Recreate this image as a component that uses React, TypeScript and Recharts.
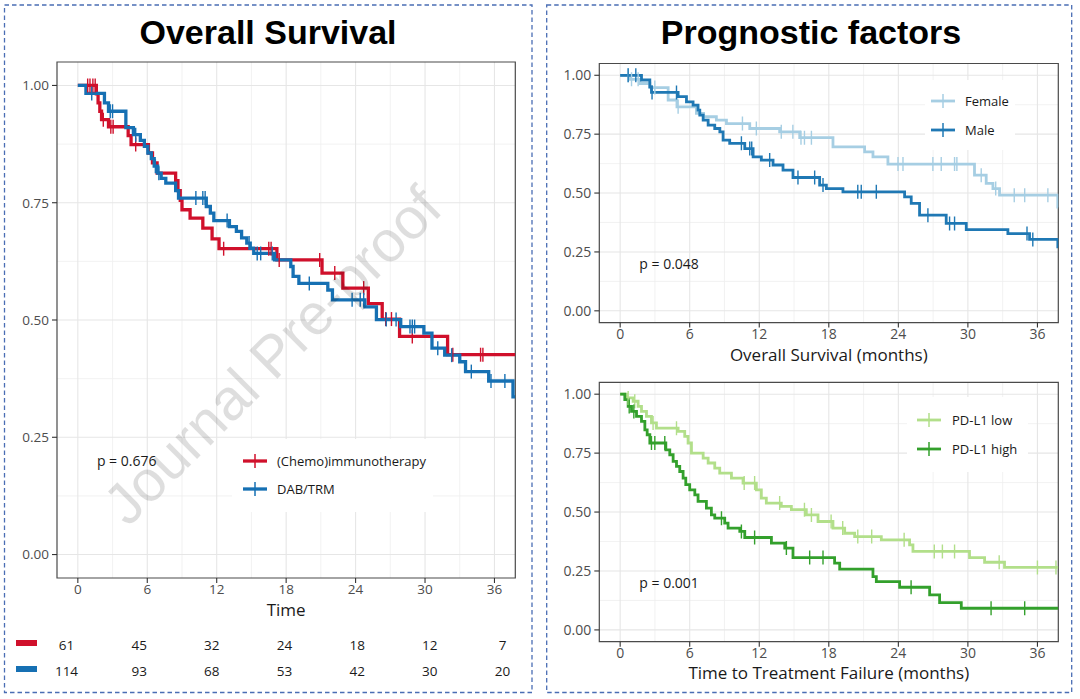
import React from "react";
import {
  CartesianGrid,
  ComposedChart,
  Line,
  ReferenceArea,
  ReferenceDot,
  Scatter,
  ScatterChart,
  XAxis,
  YAxis,
} from "recharts";

const FONT = "'Open Sans', 'Noto Sans', sans-serif";
const TITLE_FONT = "'Liberation Sans', Arial, sans-serif";

const xMajor = [0, 6, 12, 18, 24, 30, 36];
const xMinor = [3, 9, 15, 21, 27, 33];
const yMajor = [0, 0.25, 0.5, 0.75, 1];
const yMinor = [0.125, 0.375, 0.625, 0.875];
const X_DOMAIN: [number, number] = [-1.8, 37.8];
const Y_DOMAIN: [number, number] = [-0.05, 1.05];

// overall survival, (chemo)immunotherapy
const chemoTime = [0, 1.6, 1.75, 1.9, 2.05, 2.65, 4.35, 4.6, 6.1, 6.45, 6.85, 8.45, 8.65, 8.85, 9.0, 9.7, 10.8, 11.6, 12.2, 17.2, 21.1, 22.9, 25.1, 26.3, 27.8, 31.95, 37.8];
const chemoSurv = [1, 0.982, 0.963, 0.945, 0.927, 0.912, 0.893, 0.874, 0.856, 0.835, 0.813, 0.797, 0.776, 0.755, 0.735, 0.717, 0.696, 0.673, 0.652, 0.628, 0.6, 0.568, 0.535, 0.502, 0.465, 0.426, 0.426];
const chemoCensor = [0.85, 1.05, 1.3, 1.5, 2.2, 2.85, 3.05, 5.0, 12.6, 16.5, 16.7, 17.4, 20.9, 22.2, 24.7, 26.6, 27.1, 28.9, 32.4, 34.8, 35.0];

// overall survival, DAB/TRM
const dabTime = [0, 0.7, 2.3, 2.65, 4.15, 4.8, 5.4, 5.75, 6.05, 6.35, 6.6, 6.9, 7.2, 7.6, 8.45, 8.7, 11.1, 11.45, 11.75, 13.1, 13.7, 14.15, 14.6, 14.9, 15.2, 17.0, 18.4, 18.6, 19.1, 21.6, 22.0, 24.8, 25.8, 27.9, 29.9, 30.6, 31.7, 33.0, 33.5, 35.5, 37.6, 37.8];
const dabSurv = [1, 0.983, 0.963, 0.945, 0.91, 0.895, 0.883, 0.87, 0.856, 0.844, 0.828, 0.813, 0.802, 0.792, 0.776, 0.76, 0.742, 0.728, 0.712, 0.699, 0.689, 0.675, 0.664, 0.653, 0.642, 0.628, 0.614, 0.593, 0.578, 0.564, 0.543, 0.528, 0.501, 0.486, 0.472, 0.44, 0.425, 0.411, 0.39, 0.37, 0.336, 0.336];
const dabCensor = [1.2, 2.8, 3.0, 5.0, 6.7, 7.0, 10.2, 10.8, 11.0, 12.9, 14.8, 15.5, 15.8, 16.8, 20.0, 23.7, 24.4, 24.7, 26.65, 27.5, 28.7, 28.9, 29.1, 31.1, 32.3, 34.0, 35.7, 36.9];

// by sex
const femaleTime = [0, 0.85, 1.7, 2.56, 4.14, 4.9, 6.58, 7.2, 8.3, 9.17, 11.18, 13.76, 15.49, 18.36, 21.09, 21.81, 23.1, 30.57, 31.58, 32.16, 32.73, 37.76, 37.8];
const femaleSurv = [1, 0.983, 0.965, 0.948, 0.895, 0.866, 0.838, 0.824, 0.81, 0.795, 0.774, 0.76, 0.735, 0.696, 0.675, 0.654, 0.623, 0.576, 0.541, 0.519, 0.491, 0.44, 0.44];
const femaleCensor = [0.69, 0.98, 1.55, 2.99, 5.0, 10.55, 11.75, 13.9, 14.9, 15.6, 15.9, 16.5, 23.97, 24.4, 26.98, 27.7, 28.85, 29.05, 31.15, 32.4, 34.0, 34.9, 36.9];

const maleTime = [0, 1.84, 2.56, 2.7, 5.0, 5.72, 6.29, 6.72, 6.87, 7.16, 7.59, 8.16, 8.6, 8.88, 9.45, 10.75, 11.47, 12.18, 13.19, 14.05, 14.91, 17.21, 17.79, 19.22, 24.54, 25.11, 25.83, 28.13, 29.86, 33.45, 35.32, 37.76, 37.8];
const maleSurv = [1, 0.98, 0.951, 0.927, 0.909, 0.887, 0.873, 0.852, 0.831, 0.81, 0.788, 0.774, 0.76, 0.725, 0.711, 0.689, 0.654, 0.64, 0.619, 0.597, 0.566, 0.534, 0.519, 0.505, 0.484, 0.456, 0.406, 0.371, 0.345, 0.328, 0.303, 0.272, 0.272];
const maleCensor = [0.69, 1.35, 2.75, 4.86, 10.46, 11.18, 11.35, 12.9, 15.34, 16.78, 17.5, 20.5, 20.8, 22.1, 26.55, 28.42, 28.85, 35.1, 35.6];

// time to treatment failure by PD-L1
const lowTime = [0, 0.55, 1.12, 1.55, 1.84, 2.27, 2.7, 3.13, 5.0, 5.57, 5.86, 6.15, 7.16, 7.59, 8.16, 8.59, 9.6, 10.6, 11.75, 12.18, 12.61, 13.9, 14.77, 16.06, 17.07, 18.36, 19.37, 20.23, 22.53, 24.97, 25.26, 30.14, 31.44, 33.16, 37.8];
const lowSurv = [1, 0.984, 0.97, 0.948, 0.927, 0.906, 0.878, 0.856, 0.842, 0.821, 0.793, 0.75, 0.729, 0.708, 0.686, 0.665, 0.644, 0.623, 0.594, 0.559, 0.538, 0.524, 0.51, 0.488, 0.46, 0.432, 0.41, 0.396, 0.382, 0.361, 0.333, 0.307, 0.287, 0.265, 0.265];
const lowCensor = [0.69, 1.26, 2.84, 4.86, 10.7, 11.6, 13.76, 15.9, 16.5, 18.2, 19.2, 20.5, 21.7, 24.5, 27.1, 27.8, 28.85, 32.7, 36.0, 37.6];

const highTime = [0, 0.4, 0.69, 0.98, 1.41, 1.84, 2.13, 2.33, 2.56, 3.94, 4.28, 4.57, 4.86, 5.14, 5.43, 5.66, 6.0, 6.44, 6.72, 7.44, 7.87, 8.16, 9.02, 9.31, 10.32, 10.75, 13.05, 14.2, 14.91, 18.5, 18.94, 21.81, 22.1, 24.11, 26.7, 27.56, 29.43, 37.8];
const highSurv = [1, 0.977, 0.948, 0.927, 0.906, 0.885, 0.849, 0.828, 0.793, 0.764, 0.743, 0.715, 0.694, 0.672, 0.644, 0.616, 0.594, 0.573, 0.545, 0.517, 0.488, 0.474, 0.453, 0.432, 0.418, 0.392, 0.368, 0.347, 0.307, 0.283, 0.258, 0.226, 0.205, 0.181, 0.149, 0.116, 0.092, 0.092];
const highCensor = [0.78, 1.18, 2.7, 2.99, 3.85, 8.74, 10.46, 11.6, 14.34, 16.35, 17.5, 25.1, 32.0, 34.9];

// number at risk
const riskTime = [0, 6, 12, 18, 24, 30, 36];
const riskChemo = [61, 45, 32, 24, 18, 12, 7];
const riskDab = [114, 93, 68, 53, 42, 30, 20];

const RED = "#d0102b";
const BLUE = "#1670b3";

type Curve = { name: string; color: string; time: number[]; surv: number[]; censor: number[] };

function survAt(time: number[], surv: number[], t: number) {
  let s = surv[0];
  for (let i = 0; i < time.length; i++) if (time[i] <= t) s = surv[i];
  return s;
}

function mapTo(vals: number[], start: number, size: number, domain: [number, number], flip: boolean) {
  return vals.map((v) => {
    const f = (v - domain[0]) / (domain[1] - domain[0]);
    return flip ? start + size * (1 - f) : start + size * f;
  });
}

function gridX(vals: number[]) {
  return (props: any) => {
    const sc = props?.xAxis?.scale;
    if (typeof sc === "function") return vals.map((v) => sc(v));
    const o = props.offset;
    return mapTo(vals, o.left, o.width, X_DOMAIN, false);
  };
}

function gridY(vals: number[]) {
  return (props: any) => {
    const sc = props?.yAxis?.scale;
    if (typeof sc === "function") return vals.map((v) => sc(v));
    const o = props.offset;
    return mapTo(vals, o.top, o.height, Y_DOMAIN, true);
  };
}

type PlotProps = {
  left: number;
  top: number;
  width: number;
  height: number;
  margin: { top: number; right: number; left: number; bottom: number };
  yWidth: number;
  xHeight: number;
  curves: Curve[];
  pValue: string;
  xLabel: string;
  labelOffset: number;
  lineWidth: number;
  tickFont: number;
};

function KmPlot(p: PlotProps) {
  return (
    <div style={{ position: "absolute", left: p.left, top: p.top }}>
      <ComposedChart width={p.width} height={p.height} margin={p.margin}>
        <CartesianGrid
          stroke="#efefef"
          strokeWidth={0.8}
          verticalCoordinatesGenerator={gridX(xMinor)}
          horizontalCoordinatesGenerator={gridY(yMinor)}
        />
        <CartesianGrid
          stroke="#e6e6e6"
          strokeWidth={1.1}
          verticalCoordinatesGenerator={gridX(xMajor)}
          horizontalCoordinatesGenerator={gridY(yMajor)}
        />
        <XAxis
          type="number"
          dataKey="t"
          domain={X_DOMAIN}
          allowDataOverflow
          ticks={xMajor}
          axisLine={false}
          tickLine={{ stroke: "#333", strokeWidth: 1.1 }}
          tickSize={5}
          tickMargin={1}
          tick={{ fontSize: p.tickFont, fill: "#4d4d4d", fontFamily: FONT }}
          height={p.xHeight}
          label={{
            value: p.xLabel,
            position: "insideBottom",
            offset: p.labelOffset,
            style: { fontSize: 17, fill: "#1a1a1a", fontFamily: FONT },
          }}
        />
        <YAxis
          type="number"
          domain={Y_DOMAIN}
          allowDataOverflow
          ticks={yMajor}
          width={p.yWidth}
          axisLine={false}
          tickLine={{ stroke: "#333", strokeWidth: 1.1 }}
          tickSize={5}
          tickMargin={3}
          tickFormatter={(v: number) => v.toFixed(2)}
          tick={{ fontSize: p.tickFont, fill: "#4d4d4d", fontFamily: FONT }}
        />
        <ReferenceArea
          x1={X_DOMAIN[0]}
          x2={X_DOMAIN[1]}
          y1={Y_DOMAIN[0]}
          y2={Y_DOMAIN[1]}
          fill="none"
          fillOpacity={0}
          stroke="#4a4a4a"
          strokeWidth={1.2}
          ifOverflow="visible"
        />
        {p.curves.map((c) => (
          <Line
            key={c.name}
            data={c.time.map((t, i) => ({ t, s: c.surv[i] }))}
            dataKey="s"
            type="stepAfter"
            stroke={c.color}
            strokeWidth={p.lineWidth}
            dot={false}
            activeDot={false}
            isAnimationActive={false}
          />
        ))}
        {p.curves.map((c) => (
          <Scatter
            key={c.name + "-censor"}
            data={c.censor.map((t) => ({ t, s: survAt(c.time, c.surv, t) }))}
            dataKey="s"
            isAnimationActive={false}
            shape={(d: any) => (
              <line x1={d.cx} x2={d.cx} y1={d.cy - 7} y2={d.cy + 7} stroke={c.color} strokeWidth={1.4} />
            )}
          />
        ))}
        <ReferenceDot
          x={1.65}
          y={0.2}
          r={0}
          ifOverflow="visible"
          shape={(d: any) => (
            <text x={d.cx} y={d.cy} dominantBaseline="central" fontSize={14} fontFamily={FONT} fill="#1a1a1a">
              {p.pValue}
            </text>
          )}
        />
      </ComposedChart>
    </div>
  );
}

function KeyBox({
  left, top, width, height, rows, iconLeft, textLeft, items, lineWidth,
}: {
  left: number; top: number; width: number; height: number; rows: number[];
  iconLeft: number; textLeft: number; items: { name: string; color: string }[]; lineWidth: number;
}) {
  return (
    <div style={{ position: "absolute", left, top, width, height, background: "#fff" }}>
      {items.map((it, i) => (
        <React.Fragment key={it.name}>
          <svg width={24} height={16} style={{ position: "absolute", left: iconLeft, top: rows[i] - 8 }}>
            <line x1={0} x2={24} y1={8} y2={8} stroke={it.color} strokeWidth={lineWidth} />
            <line x1={12} x2={12} y1={1} y2={15} stroke={it.color} strokeWidth={1.5} />
          </svg>
          <div
            style={{
              position: "absolute", left: textLeft, top: rows[i] - 10, height: 20, lineHeight: "20px",
              fontSize: 13, fontFamily: FONT, color: "#1a1a1a", whiteSpace: "nowrap",
            }}
          >
            {it.name}
          </div>
        </React.Fragment>
      ))}
    </div>
  );
}

function RiskTable() {
  const rows = [
    ...riskTime.map((t, i) => ({ t, y: 1, n: riskChemo[i] })),
    ...riskTime.map((t, i) => ({ t, y: 0, n: riskDab[i] })),
  ];
  return (
    <div style={{ position: "absolute", left: 0, top: 625 }}>
      <ScatterChart width={540} height={60} margin={{ top: 20, right: 37.5, bottom: 14.3, left: 66.5 }}>
        <XAxis type="number" dataKey="t" domain={[0, 36]} hide />
        <YAxis type="number" dataKey="y" domain={[0, 1]} hide />
        <Scatter
          data={rows}
          isAnimationActive={false}
          shape={(d: any) => (
            <text x={d.cx} y={d.cy} textAnchor="middle" dominantBaseline="central" fontSize={13.5} fontFamily={FONT} fill="#1a1a1a">
              {d.payload.n}
            </text>
          )}
        />
      </ScatterChart>
    </div>
  );
}

export default function App() {
  const osCurves: Curve[] = [
    { name: "(Chemo)immunotherapy", color: RED, time: chemoTime, surv: chemoSurv, censor: chemoCensor },
    { name: "DAB/TRM", color: BLUE, time: dabTime, surv: dabSurv, censor: dabCensor },
  ];
  const sexCurves: Curve[] = [
    { name: "Female", color: "#a6cee3", time: femaleTime, surv: femaleSurv, censor: femaleCensor },
    { name: "Male", color: "#1f78b4", time: maleTime, surv: maleSurv, censor: maleCensor },
  ];
  const pdl1Curves: Curve[] = [
    { name: "PD-L1 low", color: "#b2df8a", time: lowTime, surv: lowSurv, censor: lowCensor },
    { name: "PD-L1 high", color: "#33a02c", time: highTime, surv: highSurv, censor: highCensor },
  ];

  const titleStyle: React.CSSProperties = {
    position: "absolute", top: 12, fontFamily: TITLE_FONT, fontWeight: 700, fontSize: 34,
    lineHeight: "40px", color: "#000", whiteSpace: "nowrap", transform: "translateX(-50%)",
  };

  return (
    <div style={{ position: "relative", width: 1080, height: 699, background: "#fff", overflow: "hidden" }}>
      <style>{"body{margin:0}"}</style>
      <div style={{ ...titleStyle, left: 268 }}>Overall Survival</div>
      <div style={{ ...titleStyle, left: 811 }}>Prognostic factors</div>

      <KmPlot
        left={0} top={0} width={530} height={630}
        margin={{ top: 62, right: 14.7, left: 0, bottom: 0 }}
        yWidth={57} xHeight={52} curves={osCurves} pValue="p = 0.676" xLabel="Time"
        labelOffset={14} lineWidth={3.3} tickFont={13.5}
      />
      <KeyBox
        left={232} top={439} width={201} height={73} rows={[22, 50]}
        iconLeft={11} textLeft={45} items={osCurves} lineWidth={3.3}
      />
      <RiskTable />
      <div style={{ position: "absolute", left: 16, top: 639.5, width: 21, height: 6, background: RED }} />
      <div style={{ position: "absolute", left: 16, top: 665.5, width: 21, height: 6, background: BLUE }} />

      <KmPlot
        left={540} top={0} width={540} height={370}
        margin={{ top: 63.5, right: 21.7, left: 0, bottom: 0 }}
        yWidth={59.3} xHeight={47.4} curves={sexCurves} pValue="p = 0.048" xLabel="Overall Survival (months)"
        labelOffset={9} lineWidth={2.8} tickFont={14}
      />
      <KeyBox
        left={925} top={80} width={90} height={70} rows={[21, 50]}
        iconLeft={6} textLeft={40} items={sexCurves} lineWidth={2.8}
      />

      <KmPlot
        left={540} top={370} width={540} height={329}
        margin={{ top: 12.4, right: 21.7, left: 0, bottom: 0 }}
        yWidth={59.3} xHeight={57.3} curves={pdl1Curves} pValue="p = 0.001" xLabel="Time to Treatment Failure (months)"
        labelOffset={20} lineWidth={2.8} tickFont={14}
      />
      <KeyBox
        left={907} top={397} width={121} height={75} rows={[23, 52]}
        iconLeft={10} textLeft={45} items={pdl1Curves} lineWidth={2.8}
      />

      <div
        style={{
          position: "absolute", left: 272, top: 355, transform: "translate(-50%, -50%) rotate(-45deg)",
          fontFamily: TITLE_FONT, fontSize: 58, color: "rgba(0,0,0,0.13)", whiteSpace: "nowrap",
          pointerEvents: "none",
        }}
      >
        Journal Pre-proof
      </div>

      <svg width={1080} height={699} style={{ position: "absolute", left: 0, top: 0, pointerEvents: "none" }}>
        <rect x={4.5} y={5} width={527.5} height={687.5} fill="none" stroke="#4a6db4" strokeWidth={1.3} strokeDasharray="4.5 3" />
        <rect x={546.7} y={5} width={525} height={687.5} fill="none" stroke="#4a6db4" strokeWidth={1.3} strokeDasharray="4.5 3" />
      </svg>
    </div>
  );
}
